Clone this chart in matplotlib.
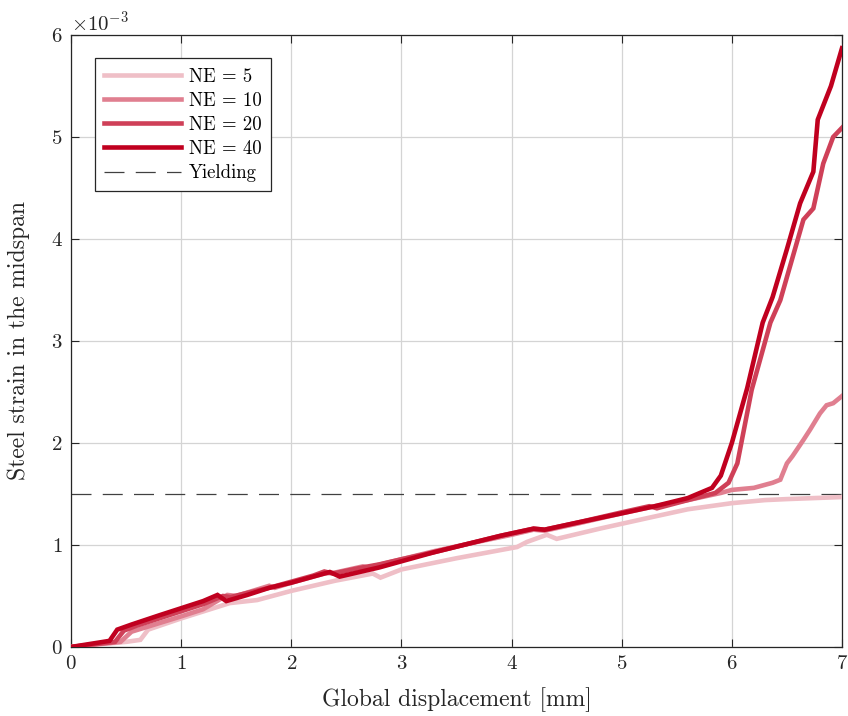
import matplotlib
matplotlib.use("Agg")
import matplotlib.pyplot as plt
import numpy as np

plt.rcParams["font.family"] = "serif"
plt.rcParams["font.serif"] = ["cmr10", "DejaVu Serif"]
plt.rcParams["mathtext.fontset"] = "cm"
plt.rcParams["axes.unicode_minus"] = False
plt.rcParams["axes.formatter.use_mathtext"] = True

# Global displacement [mm] and steel strain [x1e-3] for each mesh size
x5 = [0, 0.5, 0.63, 0.70, 1.0, 1.44, 1.69, 2.0, 2.4, 2.74, 2.81, 3.0, 3.5, 4.0, 4.05,
      4.14, 4.32, 4.41, 4.8, 5.26, 5.6, 6.0, 6.3, 6.5, 7.0]
y5 = [0, 0.05, 0.07, 0.17, 0.28, 0.43, 0.46, 0.55, 0.65, 0.72, 0.68, 0.76, 0.87, 0.97, 0.98,
      1.03, 1.10, 1.06, 1.16, 1.27, 1.35, 1.41, 1.44, 1.45, 1.47]

x10 = [0, 0.45, 0.55, 0.7, 1.0, 1.2, 1.42, 1.5, 1.8, 1.85, 2.0, 2.3, 2.4, 2.65, 2.7, 3.0,
       3.3, 3.6, 4.0, 4.2, 4.3, 4.6, 5.0, 5.3, 5.6, 5.9, 6.0, 6.2, 6.37, 6.44, 6.5, 6.55,
       6.65, 6.71, 6.8, 6.86, 6.92, 7.0]
y10 = [0, 0.05, 0.15, 0.2, 0.3, 0.37, 0.51, 0.5, 0.6, 0.58, 0.63, 0.72, 0.73, 0.79, 0.78, 0.86,
       0.94, 1.01, 1.1, 1.15, 1.14, 1.21, 1.31, 1.38, 1.44, 1.51, 1.54, 1.56, 1.61, 1.64, 1.80, 1.87,
       2.03, 2.13, 2.29, 2.37, 2.39, 2.46]

x20 = [0, 0.40, 0.48, 0.6, 0.8, 1.0, 1.2, 1.38, 1.45, 1.6, 1.8, 2.0, 2.2, 2.3, 2.38, 2.6,
       2.8, 3.0, 3.3, 3.6, 3.9, 4.2, 4.3, 4.6, 5.0, 5.25, 5.32, 5.6, 5.85, 5.97, 6.05, 6.18,
       6.35, 6.44, 6.65, 6.74, 6.83, 6.92, 7.0]
y20 = [0, 0.05, 0.16, 0.21, 0.28, 0.35, 0.42, 0.50, 0.49, 0.53, 0.58, 0.64, 0.70, 0.74, 0.72, 0.77,
       0.81, 0.86, 0.93, 1.01, 1.09, 1.16, 1.15, 1.22, 1.32, 1.38, 1.36, 1.44, 1.51, 1.61, 1.80, 2.52,
       3.18, 3.40, 4.19, 4.30, 4.74, 5.0, 5.09]

x40 = [0, 0.35, 0.42, 0.55, 0.8, 1.0, 1.2, 1.33, 1.41, 1.6, 1.8, 2.0, 2.2, 2.35, 2.44, 2.6,
       2.8, 3.0, 3.3, 3.6, 3.9, 4.2, 4.3, 4.6, 5.0, 5.3, 5.6, 5.82, 5.9, 6.0, 6.14, 6.28,
       6.37, 6.5, 6.62, 6.74, 6.78, 6.9, 7.0]
y40 = [0, 0.06, 0.17, 0.22, 0.31, 0.38, 0.45, 0.51, 0.45, 0.51, 0.58, 0.63, 0.69, 0.735, 0.69, 0.73,
       0.78, 0.84, 0.93, 1.01, 1.09, 1.16, 1.15, 1.22, 1.31, 1.38, 1.46, 1.56, 1.68, 2.0, 2.54, 3.18,
       3.43, 3.9, 4.35, 4.66, 5.17, 5.5, 5.87]

yield_strain = 1.5e-3

series = [
    ("NE = 5", x5, y5, "#efbfc7"),
    ("NE = 10", x10, y10, "#e07f90"),
    ("NE = 20", x20, y20, "#cf4058"),
    ("NE = 40", x40, y40, "#c0001f"),
]

fig = plt.figure(figsize=(8.48, 7.16), dpi=100)
ax = fig.add_axes([0.0837, 0.0964, 0.9092, 0.8547])

for label, xs, ys, color in series:
    ax.plot(xs, np.array(ys) * 1e-3, color=color, lw=3.3, label=label,
            solid_joinstyle="miter", zorder=3)

ax.axhline(yield_strain, color="#404040", lw=0.9, dashes=(16, 9), label="Yielding", zorder=2)

ax.set_xlim(0, 7)
ax.set_ylim(0, 6e-3)
ax.set_xticks(np.arange(0, 8, 1))
ax.set_yticks(np.arange(0, 7, 1) * 1e-3)
ax.ticklabel_format(axis="y", style="sci", scilimits=(-3, -3), useMathText=True)
ax.grid(True, color="#d4d4d4", lw=0.9, zorder=0)
ax.set_axisbelow(True)

ax.tick_params(direction="in", length=6, width=0.8, top=True, right=True,
               labelsize=15, colors="#262626", pad=6)
for sp in ax.spines.values():
    sp.set_color("#262626")
    sp.set_linewidth(0.9)
ax.yaxis.get_offset_text().set_fontsize(15)

ax.set_xlabel("Global displacement [mm]", fontsize=17, color="#262626", labelpad=10)
ax.set_ylabel("Steel strain in the midspan", fontsize=17, color="#262626")
ax.yaxis.set_label_coords(-0.053, 0.5)

leg = ax.legend(loc="upper left", bbox_to_anchor=(0.031, 0.962), borderaxespad=0,
                fancybox=False, edgecolor="#262626", framealpha=1, fontsize=13.5,
                handlelength=4.1, labelspacing=0.33, handletextpad=0.4,
                borderpad=0.5)
leg.get_frame().set_linewidth(0.9)

fig.savefig("out.png", dpi=100)
